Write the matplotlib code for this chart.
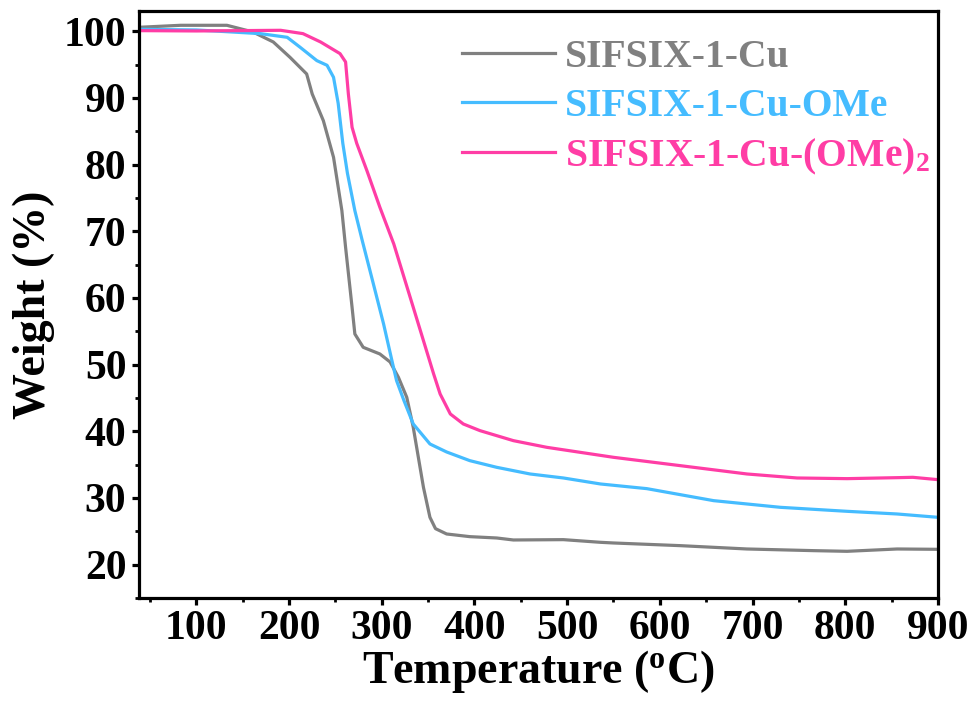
"""
TGA curves of the SIFSIX-1-Cu series.
"""
import matplotlib
matplotlib.use("Agg")
import matplotlib.pyplot as plt  # type: ignore
from matplotlib.ticker import MultipleLocator  # type: ignore

plt.rcParams["font.family"] = ["Liberation Serif", "DejaVu Serif"]
plt.rcParams["font.weight"] = "bold"
plt.rcParams["mathtext.default"] = "regular"

# values
temp_cu = [38, 83, 133, 161, 183, 201, 219, 225, 237, 248, 257, 261, 268, 271, 280,
           298, 309, 318, 327, 334, 345, 352, 358, 370, 395, 424, 442, 496, 536,
           550, 622, 694, 766, 802, 856, 900]
weight_cu = [100.6, 100.9, 100.9, 99.9, 98.4, 96.1, 93.6, 90.6, 86.6, 81.1, 73.1,
             67.6, 58.6, 54.6, 52.6, 51.6, 50.4, 48.1, 45.1, 40.6, 31.6, 27.1, 25.4,
             24.6, 24.2, 24.0, 23.7, 23.75, 23.35, 23.25, 22.85, 22.35, 22.1, 22.0,
             22.35, 22.3]

temp_ome = [38, 100, 169, 198, 212, 230, 241, 248, 253, 258, 263, 271, 279, 291,
            302, 311, 316, 324, 334, 352, 370, 395, 424, 460, 496, 536, 586, 658,
            730, 802, 856, 900]
weight_ome = [100.3, 100.2, 99.65, 99.1, 97.6, 95.6, 94.9, 93.1, 89.2, 83.2, 78.7,
              73.1, 68.6, 62.1, 56.1, 50.6, 47.6, 44.6, 41.1, 38.1, 36.9, 35.6, 34.6,
              33.6, 33.0, 32.1, 31.4, 29.6, 28.6, 28.0, 27.6, 27.1]

temp_ome2 = [38, 100, 191, 215, 234, 255, 261, 264, 268, 273, 284, 298, 313, 334,
             356, 363, 374, 388, 406, 442, 478, 514, 550, 622, 694, 748, 802, 857,
             873, 900]
weight_ome2 = [100.1, 100.05, 100.15, 99.65, 98.4, 96.65, 95.4, 90.6, 85.6, 83.2,
               79.1, 73.6, 68.1, 58.6, 48.6, 45.6, 42.6, 41.1, 40.1, 38.6, 37.6,
               36.85, 36.1, 34.85, 33.6, 33.0, 32.9, 33.05, 33.1, 32.75]

SERIES = [
    (temp_cu, weight_cu, "SIFSIX-1-Cu", "#808080"),
    (temp_ome, weight_ome, "SIFSIX-1-Cu-OMe", "#45BCFF"),
    (temp_ome2, weight_ome2, r"SIFSIX-1-Cu-(OMe)$_2$", "#FF3DA5"),
]

fig = plt.figure(figsize=(9.78, 7.06), dpi=100)
axes = fig.add_axes([0.142, 0.153, 0.817, 0.831])

for temp, weight, label, colour in SERIES:
    axes.plot(temp, weight, color=colour, linewidth=2.3, label=label)

axes.set_xlim(38, 900)
axes.set_ylim(15, 103)
axes.xaxis.set_major_locator(MultipleLocator(100))
axes.xaxis.set_minor_locator(MultipleLocator(50))
axes.yaxis.set_major_locator(MultipleLocator(10))
axes.yaxis.set_minor_locator(MultipleLocator(5))
axes.set_yticks(range(20, 101, 10))

for spine in axes.spines.values():
    spine.set_linewidth(2.3)
axes.tick_params(which="major", direction="out", length=5, width=2.3,
                 labelsize=30, pad=4)
axes.tick_params(which="minor", direction="out", length=3, width=2.0)

axes.set_xlabel(r"Temperature ($^o$C)", fontsize=33, fontweight="bold", labelpad=0)
axes.set_ylabel("Weight (%)", fontsize=33, fontweight="bold", labelpad=6)

axes.legend(loc="upper left", bbox_to_anchor=(0.37, 1.0), frameon=False,
            fontsize=28.5, handlelength=2.35, handletextpad=0.25, labelspacing=0.3,
            labelcolor="linecolor", borderaxespad=0.3)

plt.savefig("out.png", dpi=100)
plt.close(fig)
